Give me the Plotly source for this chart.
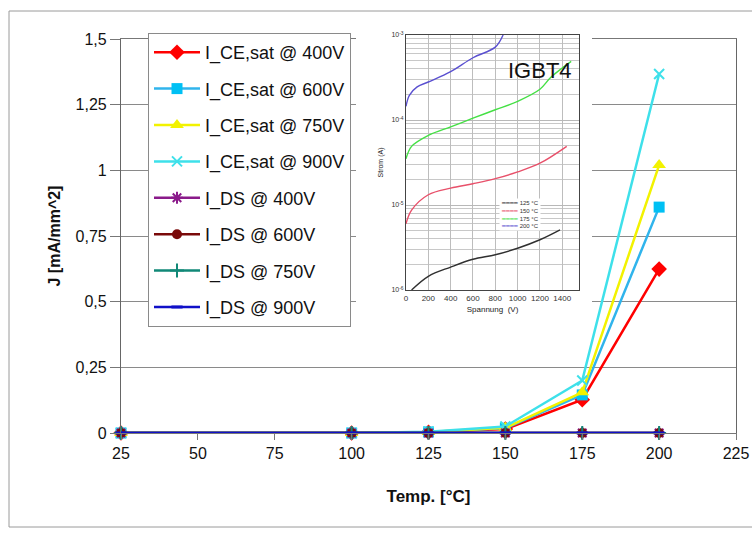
import plotly.graph_objects as go

# ---------------- main chart data ----------------
temps = [25, 100, 125, 150, 175, 200]
ice_400 = [0, 0, 0.003, 0.015, 0.127, 0.624]
ice_600 = [0, 0, 0.004, 0.018, 0.145, 0.860]
ice_750 = [0, 0, 0.004, 0.020, 0.155, 1.020]
ice_900 = [0, 0, 0.005, 0.025, 0.200, 1.367]
ids_400 = [0, 0, 0, 0, 0, 0]
ids_600 = [0, 0, 0, 0, 0, 0]
ids_750 = [0, 0, 0, 0, 0, 0]
ids_900 = [0, 0, 0, 0, 0, 0]

y_tickvals = [0, 0.25, 0.5, 0.75, 1, 1.25, 1.5]
y_ticktext = ["0", "0,25", "0,5", "0,75", "1", "1,25", "1,5"]
x_tickvals = [25, 50, 75, 100, 125, 150, 175, 200, 225]

# ---------------- inset (IGBT4 leakage) data ----------------
v_125 = [50, 200, 400, 600, 800, 1000, 1200, 1380]
i_125 = [1.0e-6, 1.45e-6, 1.86e-6, 2.3e-6, 2.6e-6, 3.1e-6, 3.9e-6, 5.1e-6]
v_150 = [0, 50, 200, 400, 600, 800, 1000, 1200, 1440]
i_150 = [6.0e-6, 8.7e-6, 1.32e-5, 1.58e-5, 1.78e-5, 2.04e-5, 2.45e-5, 3.1e-5, 4.9e-5]
v_175 = [0, 50, 200, 400, 600, 800, 1000, 1200, 1300, 1480]
i_175 = [3.5e-5, 4.9e-5, 6.6e-5, 8.3e-5, 1.05e-4, 1.32e-4, 1.66e-4, 2.3e-4, 3.2e-4, 4.9e-4]
v_200 = [0, 30, 100, 200, 400, 600, 800, 870]
i_200 = [1.45e-4, 1.95e-4, 2.45e-4, 2.8e-4, 3.7e-4, 5.4e-4, 7.2e-4, 1.0e-3]
inset_decades = [-6, -5, -4, -3]
inset_xtickvals = [0, 200, 400, 600, 800, 1000, 1200, 1400]

# log grid: decades labelled, 2..9 multiples as minor grid lines
inset_ytickvals = [10.0 ** d for d in inset_decades]
inset_yticktext = ["10<sup>%d</sup>" % d for d in inset_decades]
inset_yminor = [m * 10.0 ** d for d in inset_decades[:-1] for m in range(2, 10)]

fig = go.Figure()

main_series = [
    ("I_CE,sat @ 400V", ice_400, "#ff0000", "#ff0000", "diamond", 12, 0),
    ("I_CE,sat @ 600V", ice_600, "#30b4ec", "#00c0f4", "square", 11, 0),
    ("I_CE,sat @ 750V", ice_750, "#f2f200", "#f2f200", "triangle-up", 12, 0),
    ("I_CE,sat @ 900V", ice_900, "#3ee0ea", "#3ee0ea", "x-thin-open", 10, 2),
    ("I_DS @ 400V", ids_400, "#8a1a8a", "#8a1a8a", "asterisk-open", 10, 2),
    ("I_DS @ 600V", ids_600, "#7a0a0a", "#7a0a0a", "circle", 10, 0),
    ("I_DS @ 750V", ids_750, "#118877", "#118877", "cross-thin-open", 10, 2),
    ("I_DS @ 900V", ids_900, "#1010c8", "#1010c8", "line-ew-open", 8, 3),
]
for i, (name, vals, lc, mc, sym, ms, mlw) in enumerate(main_series):
    fig.add_trace(go.Scatter(
        x=temps, y=vals, name=name, mode="lines+markers",
        line=dict(color=lc, width=2.5),
        marker=dict(symbol=sym, size=ms, color=mc, line=dict(color=mc, width=mlw)),
        cliponaxis=False, legendgroup="g%d" % i,
        xaxis="x", yaxis="y",
    ))

# white backing of the inset picture (fills its own invisible subplot)
fig.add_trace(go.Bar(x=[0.5], y=[1], width=[1], marker=dict(color="white", line=dict(width=0)),
                     xaxis="x2", yaxis="y2", showlegend=False, hoverinfo="skip"))

inset_series = [
    ("125 °C", v_125, i_125, "#303030"),
    ("150 °C", v_150, i_150, "#e8506a"),
    ("175 °C", v_175, i_175, "#44e044"),
    ("200 °C", v_200, i_200, "#5a50d0"),
]
legend_lines = []
for name, vv, ii, c in inset_series:
    fig.add_trace(go.Scatter(
        x=vv, y=ii, name=name, mode="lines", showlegend=False,
        line=dict(color=c, width=1.4, shape="spline"),
        xaxis="x3", yaxis="y3",
    ))
    legend_lines.append('<span style="color:%s">━━━━</span> %s' % (c, name))

L, R, T, B = 121, 16, 35, 103
W, H = 752, 536
pw, ph = W - L - R, H - T - B


def px(x):
    return (x - L) / pw


def py(y):
    return (H - B - y) / ph


fig.update_layout(
    width=W, height=H,
    margin=dict(l=L, r=R, t=T, b=B, pad=0, autoexpand=False),
    paper_bgcolor="white", plot_bgcolor="white",
    font=dict(family="Arial, Liberation Sans, sans-serif", color="#111"),
    showlegend=True,
    xaxis=dict(
        domain=[0, 1], range=[25, 225], tickvals=x_tickvals, automargin=False,
        showgrid=False, zeroline=False,
        showline=True, linecolor="#777", linewidth=1, mirror=True,
        ticks="outside", ticklen=6, tickcolor="#777",
        tickfont=dict(size=16, color="#111"),
        title=dict(text="<b>Temp. [°C]</b>", font=dict(size=17), standoff=28),
        anchor="y",
    ),
    yaxis=dict(
        domain=[0, py(39)], range=[0, 1.5], automargin=False,
        tickvals=y_tickvals, ticktext=y_ticktext,
        showgrid=True, gridcolor="#8a8a8a", gridwidth=1, zeroline=False,
        showline=True, linecolor="#666", linewidth=1.2, mirror=True,
        ticks="outside", ticklen=10, tickcolor="#777",
        tickfont=dict(size=16, color="#111"),
        title=dict(text="<b>J [mA/mm^2]</b>", font=dict(size=16), standoff=10),
        anchor="x",
    ),
    xaxis2=dict(domain=[px(356), px(592)], range=[0, 1], visible=False, anchor="y2",
                fixedrange=True),
    yaxis2=dict(domain=[py(330), 1.0], range=[0, 1], visible=False, anchor="x2",
                fixedrange=True),
    bargap=0,
    xaxis3=dict(
        domain=[px(406), px(579)], range=[0, 1550], tickvals=inset_xtickvals,
        automargin=False,
        showgrid=True, gridcolor="#bdbdbd", gridwidth=1, zeroline=False,
        showline=True, linecolor="#444", linewidth=1, mirror=True,
        ticks="", tickfont=dict(size=8, color="#333"),
        title=dict(text="Spannung  (V)", font=dict(size=8, color="#222"), standoff=4),
        anchor="y3",
    ),
    yaxis3=dict(
        domain=[py(290), py(35)], type="log", range=[-6, -3], automargin=False,
        tickvals=inset_ytickvals, ticktext=inset_yticktext,
        showgrid=True, gridcolor="#b8b8b8", gridwidth=1, zeroline=False,
        minor=dict(tickvals=inset_yminor, showgrid=True, gridcolor="#c8c8c8",
                   gridwidth=1, ticks=""),
        showline=True, linecolor="#444", linewidth=1, mirror=True,
        ticks="", tickfont=dict(size=7, color="#333"),
        title=dict(text="Strom (A)", font=dict(size=7, color="#222"), standoff=6),
        anchor="x3",
    ),
    legend=dict(
        x=px(148), y=py(33), xanchor="left", yanchor="top",
        bgcolor="white", bordercolor="#8a8a8a", borderwidth=1,
        font=dict(size=18, color="#111"),
        traceorder="grouped", tracegroupgap=10,
        itemwidth=46, maxheight=400,
    ),
    shapes=[
        dict(type="rect", xref="paper", yref="paper",
             x0=px(9), x1=px(770), y0=py(527), y1=py(11),
             line=dict(color="#9a9a9a", width=1), fillcolor="rgba(0,0,0,0)",
             layer="below"),
    ],
    annotations=[
        dict(text="IGBT4", xref="paper", yref="paper", x=px(540), y=py(70),
             xanchor="center", yanchor="middle", showarrow=False,
             font=dict(size=22, color="#111")),
        dict(text="<br>".join(legend_lines), xref="paper", yref="paper",
             x=px(499), y=py(198), xanchor="left", yanchor="top", align="left",
             showarrow=False, bgcolor="white", borderpad=1,
             font=dict(size=6, color="#333")),
    ],
)

fig.write_html("out.html")
